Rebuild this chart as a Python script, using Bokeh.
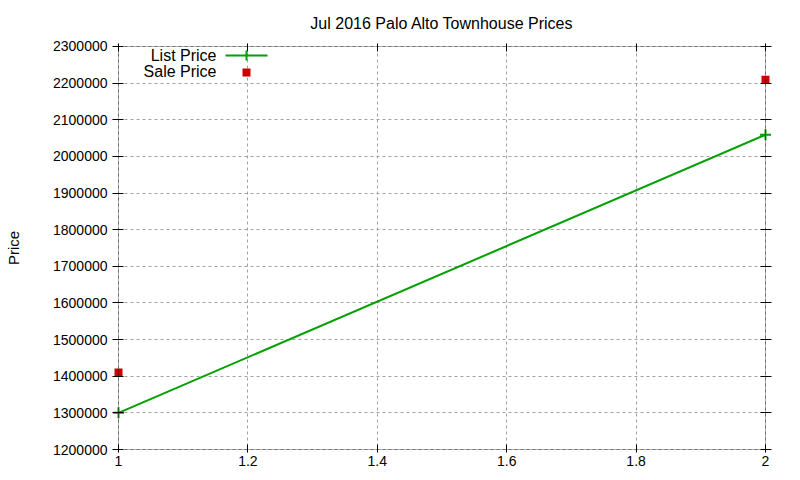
from bokeh.plotting import figure
from bokeh.models import (ColumnDataSource, LinearAxis, Label, BoxAnnotation,
                          FixedTicker, Range1d)
from bokeh.embed import file_html
from bokeh.resources import INLINE

# data
index = [1, 2]
list_price = [1300000, 2059000]
sale_price = [1410000, 2209000]

x_ticks = [1.0, 1.2, 1.4, 1.6, 1.8, 2.0]
y_ticks = list(range(1200000, 2300001, 100000))

FONT = "Liberation Sans"
GREEN = "#00a000"
RED = "#cc0000"

# small padding so the end markers are not clipped by the frame (gnuplot draws them whole)
XPAD = 6 / 647
YPAD = 3 * 1100000 / 404

src = ColumnDataSource(dict(x=index, list_price=list_price, sale_price=sale_price))

p = figure(width=800, height=480, output_backend="svg", toolbar_location=None,
           x_range=Range1d(1 - XPAD, 2 + XPAD),
           y_range=Range1d(1200000 - YPAD, 2300000 + YPAD),
           min_border_left=112, min_border_right=29, min_border_top=42,
           min_border_bottom=28, x_axis_location=None, y_axis_location=None)
p.outline_line_color = None
p.background_fill_color = "white"
p.border_fill_color = "white"

p.title.text = "Jul 2016 Palo Alto Townhouse Prices"
p.title.align = "center"
p.title.text_font = FONT
p.title.text_font_size = "16px"
p.title.text_font_style = "normal"
p.title.text_color = "black"
p.title.standoff = 24


def style_axis(ax, ticks, tick_in, show_labels):
    ax.ticker = FixedTicker(ticks=ticks)
    ax.axis_line_color = None
    ax.major_tick_in = tick_in
    ax.major_tick_out = 0
    ax.major_tick_line_color = "black"
    ax.minor_tick_line_color = None
    ax.major_label_text_font = FONT
    ax.major_label_text_font_size = "14px"
    ax.major_label_text_color = "black"
    if not show_labels:
        ax.major_label_overrides = {t: "" for t in ticks}
        ax.major_label_standoff = 0


xb = LinearAxis()
style_axis(xb, x_ticks, 8, True)
xb.major_label_standoff = 3
p.add_layout(xb, "below")

yl = LinearAxis(axis_label="Price")
style_axis(yl, y_ticks, 11, True)
yl.major_label_standoff = 5
yl.formatter.use_scientific = False
yl.axis_label_text_font = FONT
yl.axis_label_text_font_size = "15px"
yl.axis_label_text_font_style = "normal"
yl.axis_label_text_color = "black"
yl.axis_label_standoff = 28
p.add_layout(yl, "left")

xt = LinearAxis()
style_axis(xt, x_ticks, 8, False)
p.add_layout(xt, "above")
yr = LinearAxis()
style_axis(yr, y_ticks, 11, False)
p.add_layout(yr, "right")

p.xgrid.ticker = FixedTicker(ticks=x_ticks)
p.ygrid.ticker = FixedTicker(ticks=y_ticks)
p.xgrid.bounds = (1200000, 2300000)
p.ygrid.bounds = (1, 2)
for g in (p.xgrid, p.ygrid):
    g.grid_line_color = "#a0a0a0"
    g.grid_line_dash = "3 3"
    g.grid_line_width = 1

# plot border at the data limits
p.add_layout(BoxAnnotation(left=1, right=2, bottom=1200000, top=2300000,
                           fill_color=None, line_color="black", line_width=1))

p.line("x", "list_price", source=src, line_color=GREEN, line_width=2)
p.scatter("x", "list_price", source=src, marker="cross", size=11,
          line_color=GREEN, line_width=2)
p.scatter("x", "sale_price", source=src, marker="square", size=8,
          fill_color=RED, line_color=None)

# gnuplot-style key: label on the left, sample on the right
for txt, yc in (("List Price", 397), ("Sale Price", 381)):
    p.add_layout(Label(x=104, y=yc, x_units="screen", y_units="screen", text=txt,
                       text_font=FONT, text_font_size="16px", text_align="right",
                       text_baseline="middle", text_color="black"))
p.add_layout(BoxAnnotation(left=113, right=155, bottom=396, top=398,
                           left_units="screen", right_units="screen",
                           bottom_units="screen", top_units="screen",
                           fill_color=GREEN, fill_alpha=1, line_color=None))
p.add_layout(BoxAnnotation(left=133, right=135, bottom=392, top=402,
                           left_units="screen", right_units="screen",
                           bottom_units="screen", top_units="screen",
                           fill_color=GREEN, fill_alpha=1, line_color=None))
p.add_layout(BoxAnnotation(left=130, right=138, bottom=376, top=384,
                           left_units="screen", right_units="screen",
                           bottom_units="screen", top_units="screen",
                           fill_color=RED, fill_alpha=1, line_color=None))

open("out.html", "w").write(file_html(p, INLINE))
